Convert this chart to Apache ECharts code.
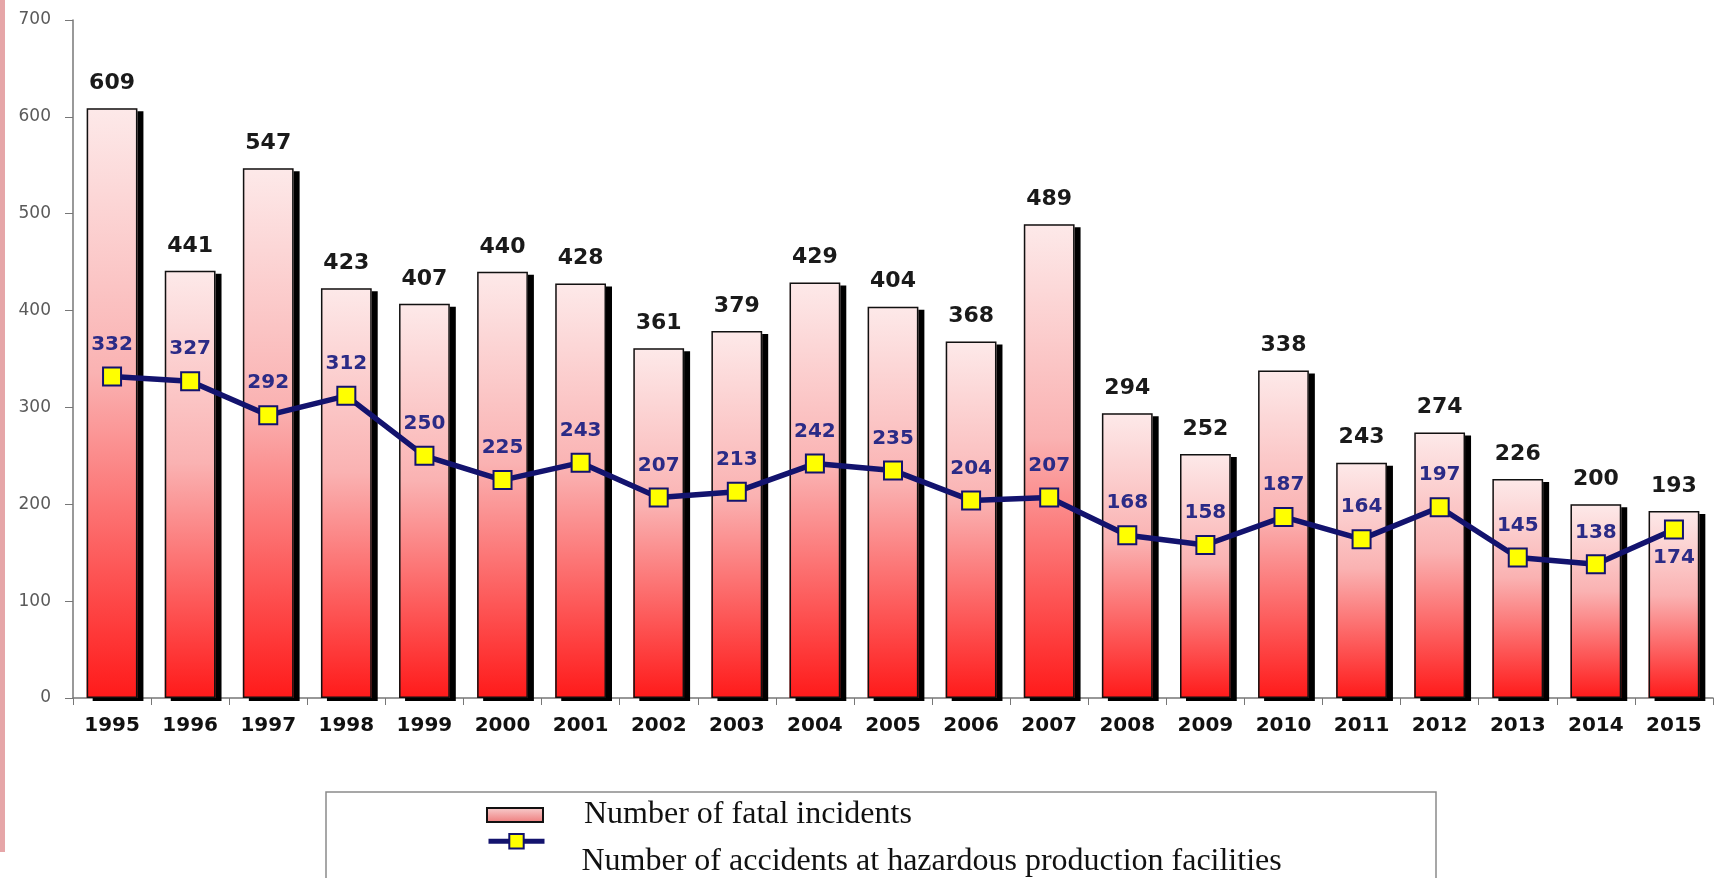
<!DOCTYPE html>
<html>
<head>
<meta charset="utf-8">
<script src="https://cdn.jsdelivr.net/npm/echarts@6/dist/echarts.min.js"></script>
<style>
html,body{margin:0;padding:0;background:#fff;}
#chart{width:1727px;height:878px;}
</style>
</head>
<body>
<div id="chart"></div>
<script>
const years = ['1995','1996','1997','1998','1999','2000','2001','2002','2003','2004','2005','2006','2007','2008','2009','2010','2011','2012','2013','2014','2015'];
const fatalIncidents = [609,441,547,423,407,440,428,361,379,429,404,368,489,294,252,338,243,274,226,200,193];
const accidents = [332,327,292,312,250,225,243,207,213,242,235,204,207,168,158,187,164,197,145,138,174];
const accidentLabelBelow = ['2015'];
const yTicks = {min:0, max:700, interval:100};
const seriesNames = ['Number of fatal incidents','Number of accidents at hazardous production facilities'];

const chart = echarts.init(document.getElementById('chart'));
const barGradient = new echarts.graphic.LinearGradient(0,0,0,1,[
  {offset:0, color:'#fde9e9'},
  {offset:0.45, color:'#fab2b2'},
  {offset:1, color:'#ff1a1a'}
]);
const lineData = accidents.map((v,i)=>{
  const d = {value:v};
  if (accidentLabelBelow.includes(years[i])) d.label = {position:'bottom', distance:8};
  return d;
});
const serif = 'Liberation Serif, Times New Roman, serif';
chart.setOption({
  animation:false,
  textStyle:{fontFamily:'DejaVu Sans, Arial, sans-serif'},
  grid:{left:73, right:14, top:20, bottom:180},
  graphic:[
    {type:'rect', shape:{x:0,y:0,width:5,height:852}, style:{fill:'#e6a6a8'}, silent:true},
    {type:'rect', shape:{x:326,y:792,width:1110,height:100}, style:{fill:'none', stroke:'#8a8a8a', lineWidth:1.5}, silent:true}
  ],
  legend:[
    {
      left:481, top:794, itemWidth:56, itemHeight:14,
      formatter:n=>'{t|'+n+'}',
      textStyle:{rich:{t:{fontFamily:serif, fontSize:32, color:'#111', padding:[0,0,0,36]}}},
      data:[{name:seriesNames[0], icon:'rect', itemStyle:{color:new echarts.graphic.LinearGradient(0,0,0,1,[{offset:0,color:'#f8d0d0'},{offset:1,color:'#ee7a7a'}]), borderColor:'#111', borderWidth:2}}]
    },
    {
      left:481, top:828, itemWidth:56, itemHeight:18,
      formatter:n=>'{t|'+n+'}',
      textStyle:{rich:{t:{fontFamily:serif, fontSize:32, color:'#111', padding:[40,0,0,32]}}},
      data:[{name:seriesNames[1], lineStyle:{color:'#13136e', width:5}, itemStyle:{color:'#ffff00', borderColor:'#13136e', borderWidth:2}}]
    }
  ],
  xAxis:{
    type:'category', data:years,
    axisLine:{lineStyle:{color:'#777', width:1.5}},
    axisTick:{show:true, length:7, lineStyle:{color:'#777'}},
    axisLabel:{color:'#111', fontWeight:'bold', fontSize:20, margin:18}
  },
  yAxis:{
    type:'value', min:yTicks.min, max:yTicks.max, interval:yTicks.interval,
    splitLine:{show:false},
    axisLine:{show:true, lineStyle:{color:'#777', width:1.5}},
    axisTick:{show:true, length:8, lineStyle:{color:'#777'}},
    axisLabel:{color:'#5a5a5a', fontSize:17, margin:22}
  },
  series:[
    {
      name:seriesNames[0], type:'bar', data:fatalIncidents, barWidth:'65%',
      itemStyle:{color:barGradient, shadowColor:'#000', shadowOffsetX:6, shadowOffsetY:3, shadowBlur:0},
      label:{show:true, position:'top', distance:14, color:'#1a1a1a', fontWeight:'bold', fontSize:22}
    },
    {
      name:'outline', type:'bar', data:fatalIncidents, barWidth:'65%', barGap:'-100%', silent:true,
      itemStyle:{color:'rgba(0,0,0,0)', borderColor:'#111', borderWidth:1.5}
    },
    {
      name:seriesNames[1], type:'line', data:lineData, z:5,
      lineStyle:{color:'#13136e', width:5.5},
      symbol:'rect', symbolSize:18,
      itemStyle:{color:'#ffff00', borderColor:'#13136e', borderWidth:2},
      label:{show:true, position:'top', distance:12, color:'#2b2b86', fontWeight:'bold', fontSize:20}
    }
  ]
});
</script>
</body>
</html>
